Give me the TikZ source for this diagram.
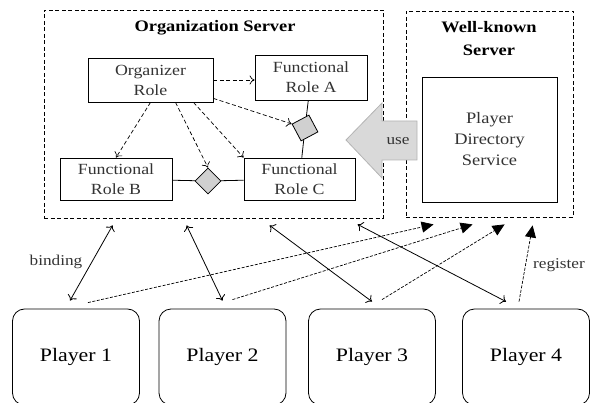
\documentclass[tikz,border=0pt]{standalone}
\usepackage{fontspec}
\setmainfont{Liberation Serif}
\newfontfamily\diagfont{Liberation Serif}[FakeStretch=1.15]
\usepackage{tikz}
\usetikzlibrary{shapes.geometric}
\usetikzlibrary{arrows.meta}

\begin{document}
\begin{tikzpicture}[x=1pt,y=-1pt,
		rolebox/.style={draw,line width=0.8pt,align=center,inner sep=0,text=custcol_33_33_33,font=\diagfont\fontsize{15.5pt}{20pt}\selectfont},
		server/.style={draw,line width=0.8pt,dash pattern=on 4pt off 2.5pt,inner sep=0},
		srvtitle/.style={inner sep=0,align=center,font=\diagfont\fontsize{16pt}{23pt}\selectfont\bfseries},
		player/.style={draw,line width=0.8pt,rounded corners=12pt,minimum width=127pt,minimum height=96pt,inner sep=0,font=\diagfont\fontsize{19pt}{19pt}\selectfont},
		call/.style={-{To[length=5pt,width=9pt]},line width=0.7pt,dash pattern=on 4pt off 2.5pt},
		bind/.style={{To[length=5pt,width=10pt]}-{To[length=5pt,width=10pt]},line width=0.8pt},
		reg/.style={-{Triangle[length=12pt,width=11pt]},line width=0.7pt,dash pattern=on 3pt off 1.5pt},
		link/.style={line width=0.8pt},
		gate/.style={draw,line width=0.8pt,fill=custcol_d0_d0_d0,inner sep=0},
		lbl/.style={inner sep=0,text=custcol_33_33_33,font=\diagfont\fontsize{15pt}{15pt}\selectfont}]
					\definecolor{custcol_33_33_33}{RGB}{51, 51, 51}
					\definecolor{custcol_d0_d0_d0}{RGB}{208, 208, 208}
					\definecolor{custcol_d9_d9_d9}{RGB}{217, 217, 217}
					\definecolor{custcol_b4_b4_b4}{RGB}{180, 180, 180}
					\clip (0,0) rectangle (596,403);
					\node[server, minimum width=339pt, minimum height=208pt] (OrgSrv) at (213.5,114) {};
					\node[server, minimum width=167pt, minimum height=206pt] (WKSrv) at (489.5,114) {};
					\draw [line width=0.8pt, custcol_b4_b4_b4, fill=custcol_d9_d9_d9]  (346,140) -- (382,103) -- (382,121) -- (417,121) -- (417,160) -- (382,160) -- (382,178) -- cycle;
					\node[lbl] (use) at (398,141) {use};
					\node[srvtitle] (OrgTitle) at (215,28) {Organization Server};
					\node[srvtitle] (WKTitle) at (489,39) {Well-known\\Server};
					\node[rolebox, minimum width=125pt, minimum height=44pt] (Org) at (150.5,80) {Organizer\\Role};
					\node[rolebox, minimum width=112pt, minimum height=45pt] (FRA) at (311,77.5) {Functional\\Role A};
					\node[rolebox, minimum width=112pt, minimum height=42pt] (FRB) at (116,179) {Functional\\Role B};
					\node[rolebox, minimum width=111pt, minimum height=42pt] (FRC) at (299.5,179) {Functional\\Role C};
					\node[gate, diamond, minimum size=26pt] (dBC) at (208,181) {};
					\node[gate, rectangle, minimum size=19pt, rotate=28] (dA) at (305,128) {};
					\node[rolebox, minimum width=135pt, minimum height=125pt, font=\diagfont\fontsize{16pt}{21pt}\selectfont] (PDS) at (489.5,139.5) {Player\\Directory\\Service};
					\draw[call] (Org.east) -- (Org.east -| FRA.west);
					\draw[call] ([yshift=4pt]Org.south east) -- (dA.north west);
					\draw[call] (Org.south) -- (FRB.north);
					\draw[call] ([xshift=25pt]Org.south) -- (dBC.north);
					\draw[call] ([xshift=43pt]Org.south) -- (FRC.north west);
					\draw[link] (FRA) -- (dA);
					\draw[link] (dA) -- (FRC);
					\draw[link] (FRB) -- (dBC) -- (FRC);
					\node[player] (P1) at (76,357) {Player 1};
					\node[player] (P2) at (222.5,357) {Player 2};
					\node[player] (P3) at (372,357) {Player 3};
					\node[player] (P4) at (526,357) {Player 4};
					\draw[bind] ([shift={(-6,-8)}]P1.north) -- ([shift={(69,7)}]OrgSrv.south west);
					\draw[bind] ([shift={(0,-8)}]P2.north) -- ([shift={(143,7)}]OrgSrv.south west);
					\draw[bind] ([shift={(0,-7)}]P3.north) -- ([shift={(226,7)}]OrgSrv.south west);
					\draw[bind] ([shift={(-20,-7)}]P4.north) -- ([shift={(314,6)}]OrgSrv.south west);
					\draw[reg] ([shift={(12,-6)}]P1.north) -- ([shift={(28,7)}]WKSrv.south west);
					\draw[reg] ([shift={(10,-9)}]P2.north) -- ([shift={(67,7)}]WKSrv.south west);
					\draw[reg] ([shift={(10,-9)}]P3.north) -- ([shift={(99,7)}]WKSrv.south west);
					\draw[reg] ([shift={(-7,-7)}]P4.north) -- ([shift={(127,8)}]WKSrv.south west);
					\node[lbl] (bindLbl) at (56,262) {binding};
					\node[lbl] (regLbl) at (559,265) {register};
				\end{tikzpicture}
\end{document}
